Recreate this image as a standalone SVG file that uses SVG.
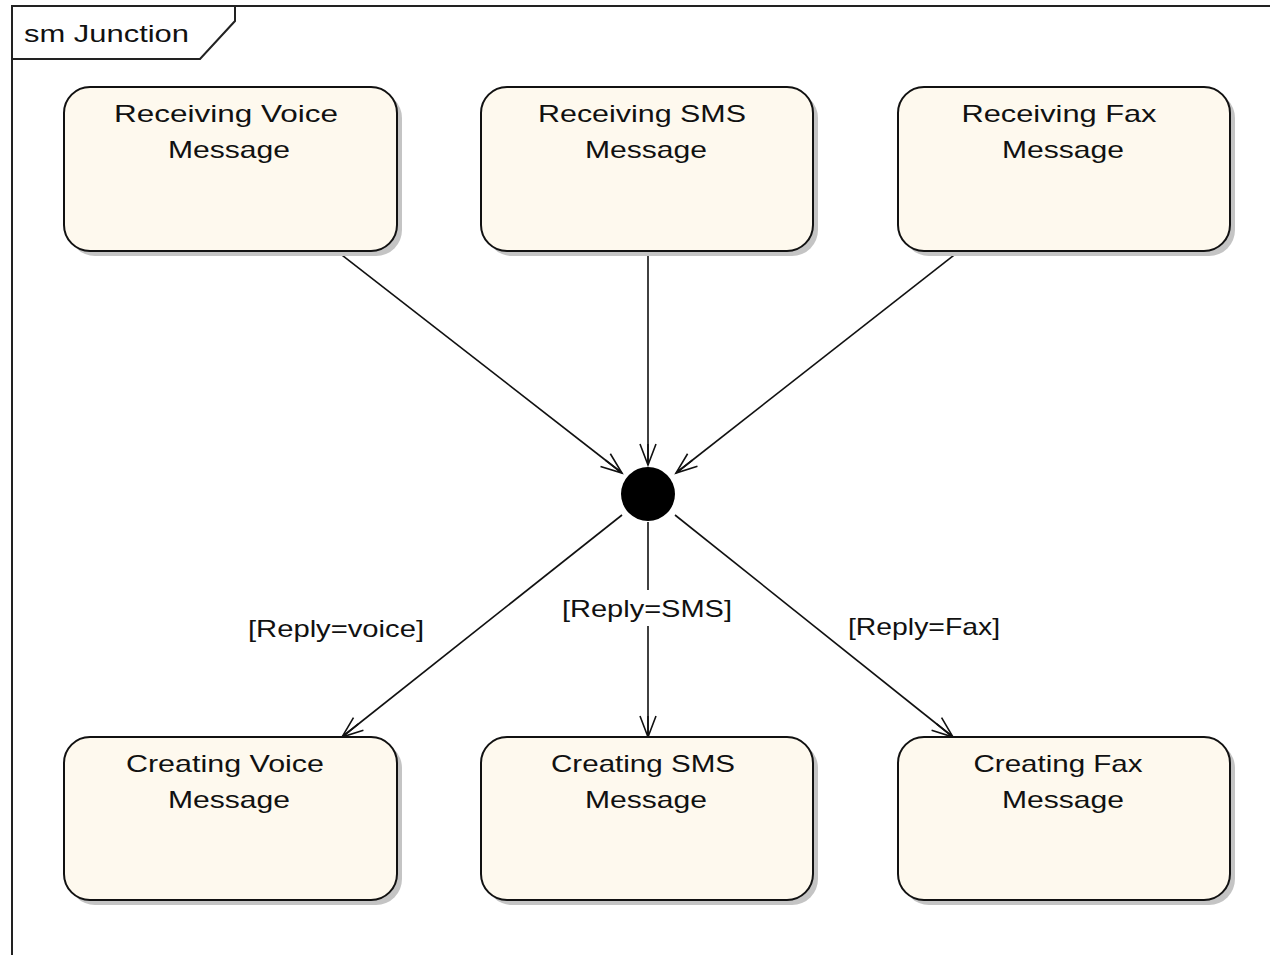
<svg xmlns="http://www.w3.org/2000/svg" width="1270" height="955" viewBox="0 0 1270 955">
  <style>
    .frame { fill: none; stroke: #222; stroke-width: 2; }
    .shadow { fill: #c4c4c4; }
    .state { fill: #fef9ee; stroke: #111; stroke-width: 2; }
    .lbl { font-family: "Liberation Sans", Arial, sans-serif; font-size: 24px; fill: #111; text-anchor: middle; }
    .title { font-family: "Liberation Sans", Arial, sans-serif; font-size: 24px; fill: #111; }
    .edge { fill: none; stroke: #111; stroke-width: 1.6; marker-end: url(#open); }
  </style>
  <defs>
    <marker id="open" markerUnits="userSpaceOnUse" markerWidth="30" markerHeight="22" refX="23" refY="11" orient="auto" overflow="visible">
      <path d="M2,3 L23,11 L2,19 M2,11 L23,11" fill="none" stroke="#111" stroke-width="1.6"/>
    </marker>
  </defs>

  <rect width="1270" height="955" fill="#ffffff"/>

  <!-- diagram frame with name tab -->
  <g id="frame">
    <path class="frame" d="M1270,6 L12,6 L12,955"/>
    <path class="frame" d="M12,59 L200,59 L235,21 L235,6"/>
    <text class="title" x="24" y="42" textLength="165" lengthAdjust="spacingAndGlyphs">sm Junction</text>
  </g>

  <!-- transitions -->
  <g id="connectors">
    <line class="edge" x1="338" y1="252" x2="622" y2="473"/>
    <line class="edge" x1="648" y1="252" x2="648" y2="465"/>
    <line class="edge" x1="958" y1="252" x2="676" y2="473"/>
    <line class="edge" x1="622" y1="515" x2="342" y2="737"/>
    <line class="edge" x1="648" y1="522" x2="648" y2="737"/>
    <line class="edge" x1="675" y1="515" x2="953" y2="737"/>
    <text class="lbl" x="336" y="637" textLength="176" lengthAdjust="spacingAndGlyphs">[Reply=voice]</text>
    <rect x="558" y="590" width="180" height="36" fill="#ffffff"/>
    <text class="lbl" x="647" y="617" textLength="170" lengthAdjust="spacingAndGlyphs">[Reply=SMS]</text>
    <text class="lbl" x="924" y="635" textLength="152" lengthAdjust="spacingAndGlyphs">[Reply=Fax]</text>
  </g>

  <!-- junction pseudostate -->
  <g id="junction">
    <circle cx="648" cy="494" r="27" fill="#000"/>
  </g>

  <g id="recv-voice">
    <rect class="shadow" x="69" y="92" width="333" height="164" rx="26"/>
    <rect class="state" x="64" y="87" width="333" height="164" rx="26"/>
    <text class="lbl" x="226" y="122" textLength="224" lengthAdjust="spacingAndGlyphs">Receiving Voice</text>
    <text class="lbl" x="229" y="158" textLength="122" lengthAdjust="spacingAndGlyphs">Message</text>
  </g>

  <g id="recv-sms">
    <rect class="shadow" x="486" y="92" width="332" height="164" rx="26"/>
    <rect class="state" x="481" y="87" width="332" height="164" rx="26"/>
    <text class="lbl" x="642" y="122" textLength="208" lengthAdjust="spacingAndGlyphs">Receiving SMS</text>
    <text class="lbl" x="646" y="158" textLength="122" lengthAdjust="spacingAndGlyphs">Message</text>
  </g>

  <g id="recv-fax">
    <rect class="shadow" x="903" y="92" width="332" height="164" rx="26"/>
    <rect class="state" x="898" y="87" width="332" height="164" rx="26"/>
    <text class="lbl" x="1059" y="122" textLength="195" lengthAdjust="spacingAndGlyphs">Receiving Fax</text>
    <text class="lbl" x="1063" y="158" textLength="122" lengthAdjust="spacingAndGlyphs">Message</text>
  </g>

  <g id="create-voice">
    <rect class="shadow" x="69" y="742" width="333" height="163" rx="26"/>
    <rect class="state" x="64" y="737" width="333" height="163" rx="26"/>
    <text class="lbl" x="225" y="772" textLength="198" lengthAdjust="spacingAndGlyphs">Creating Voice</text>
    <text class="lbl" x="229" y="808" textLength="122" lengthAdjust="spacingAndGlyphs">Message</text>
  </g>

  <g id="create-sms">
    <rect class="shadow" x="486" y="742" width="332" height="163" rx="26"/>
    <rect class="state" x="481" y="737" width="332" height="163" rx="26"/>
    <text class="lbl" x="643" y="772" textLength="184" lengthAdjust="spacingAndGlyphs">Creating SMS</text>
    <text class="lbl" x="646" y="808" textLength="122" lengthAdjust="spacingAndGlyphs">Message</text>
  </g>

  <g id="create-fax">
    <rect class="shadow" x="903" y="742" width="332" height="163" rx="26"/>
    <rect class="state" x="898" y="737" width="332" height="163" rx="26"/>
    <text class="lbl" x="1058" y="772" textLength="169" lengthAdjust="spacingAndGlyphs">Creating Fax</text>
    <text class="lbl" x="1063" y="808" textLength="122" lengthAdjust="spacingAndGlyphs">Message</text>
  </g>
</svg>
